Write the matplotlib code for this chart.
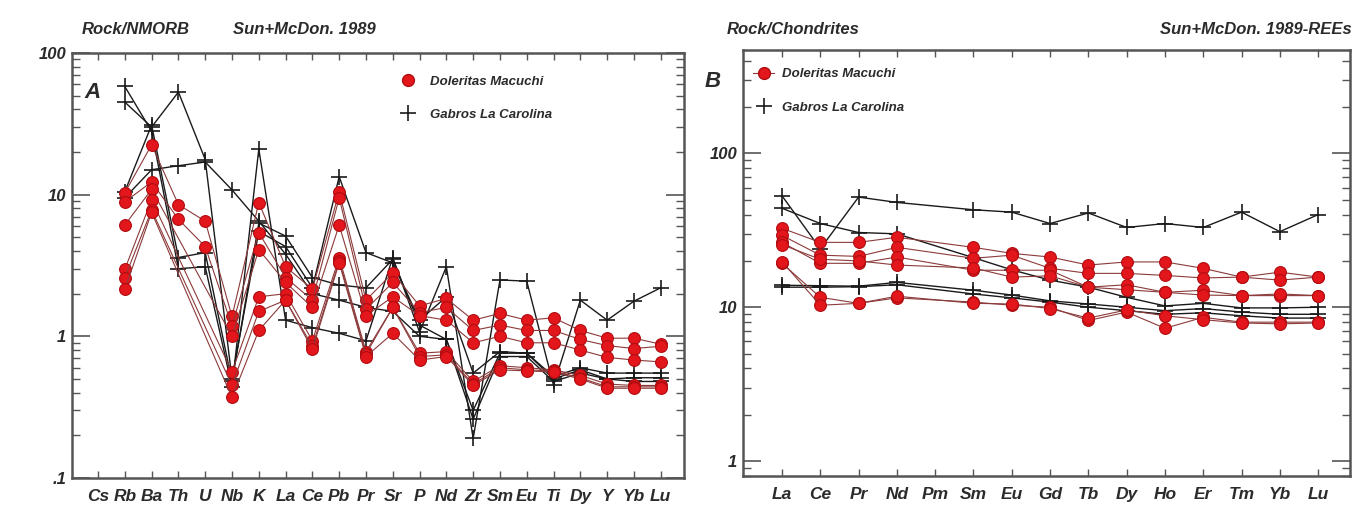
import matplotlib.pyplot as plt
import numpy as np
from matplotlib.lines import Line2D

plt.rcParams['font.family'] = ['Liberation Sans', 'DejaVu Sans']

nan = np.nan

# spider diagram, normalised to NMORB (Sun & McDonough 1989)
spider_elements = ["Cs", "Rb", "Ba", "Th", "U", "Nb", "K", "La", "Ce", "Pb", "Pr",
                   "Sr", "P", "Nd", "Zr", "Sm", "Eu", "Ti", "Dy", "Y", "Yb", "Lu"]

macuchi_nmorb = [
    [nan, 10.3, 22.5, 8.5, 6.5, 1.38, 8.8, 3.1, 2.15, 10.5, 1.8, 2.8, 1.64, 1.85, 1.3, 1.45, 1.3, 1.35, 1.1, 0.97, 0.97, 0.88],
    [nan, 8.9, 12.3, 6.7, 4.3, 1.18, 5.4, 2.6, 1.8, 9.5, 1.55, 2.4, 1.47, 1.6, 1.1, 1.2, 1.1, 1.1, 0.95, 0.86, 0.82, 0.85],
    [nan, 6.1, 10.9, nan, nan, 1.0, 4.1, 2.4, 1.6, 6.1, 1.4, 1.9, 1.4, 1.3, 0.9, 1.0, 0.9, 0.9, 0.8, 0.71, 0.68, 0.66],
    [nan, 2.97, 9.2, nan, nan, 0.56, 1.9, 2.0, 0.93, 3.6, 0.78, 1.6, 0.76, 0.78, 0.48, 0.62, 0.6, 0.58, 0.53, 0.46, 0.45, 0.45],
    [nan, 2.6, 7.8, nan, nan, 0.45, 1.5, 1.8, 0.85, 3.4, 0.75, 1.6, 0.72, 0.74, 0.46, 0.6, 0.58, 0.57, 0.51, 0.44, 0.44, 0.44],
    [nan, 2.15, 7.5, nan, nan, 0.37, 1.1, 1.8, 0.81, 3.3, 0.72, 1.05, 0.68, 0.72, 0.45, 0.58, 0.57, 0.56, 0.5, 0.43, 0.43, 0.43],
]

carolina_nmorb = [
    [nan, 45, 30, 53, 17.7, 0.5, 5.5, 4.3, 2.2, 13.4, 3.9, 3.3, 1.3, 1.9, 0.55, 0.78, 0.76, 0.52, 0.6, 0.55, 0.55, 0.55],
    [nan, 58, 28, 3.0, 3.1, 0.44, 21, 1.3, 1.15, 1.05, 0.93, 3.6, 1.07, 3.1, 0.19, 2.5, 2.45, 0.45, 1.8, 1.3, 1.77, 2.2],
    [nan, 10.5, 31, 3.6, 3.9, 0.48, 6.3, 5.1, 2.6, 2.3, 2.2, 3.5, 1.2, 0.95, 0.26, 0.72, 0.72, 0.48, 0.55, 0.5, 0.51, 0.51],
    [nan, 9.5, 15, 16, 17, 10.8, 6.5, 3.8, 2.0, 1.8, 1.6, 1.5, 1.0, 0.95, 0.3, 0.76, 0.76, 0.5, 0.58, 0.5, 0.48, 0.48],
]

# REE normalised to chondrite
ree_elements = ["La", "Ce", "Pr", "Nd", "Pm", "Sm", "Eu", "Gd", "Tb", "Dy", "Ho", "Er", "Tm", "Yb", "Lu"]

macuchi_ree = [
    [32.6, 26.4, 26.4, 28.5, nan, 24.5, 22.4, 21.2, 18.8, 19.7, 19.7, 17.9, 15.7, 16.9, 15.7],
    [29.3, 21.8, 21.4, 24.5, nan, 20.8, 21.8, 17.9, 16.6, 16.6, 16.1, 15.5, 15.7, 15.0, 15.7],
    [26.4, 19.3, 19.3, 21.2, nan, 17.4, 17.4, 17.4, 13.5, 14.0, 12.5, 12.9, 11.9, 11.9, 11.9],
    [25.5, 20.5, 20.0, 18.8, nan, 18.0, 15.7, 16.0, 13.5, 13.0, 12.5, 12.0, 11.9, 12.2, 11.9],
    [19.3, 11.6, 10.6, 11.5, nan, 10.8, 10.3, 10.0, 8.2, 9.3, 7.3, 8.6, 8.0, 8.0, 8.0],
    [19.8, 10.3, 10.6, 11.8, nan, 10.6, 10.5, 9.8, 8.5, 9.6, 8.8, 8.3, 7.9, 7.8, 7.9],
]

carolina_ree = [
    [53, 24, 52, 48, nan, 43, 41.5, 35, 41, 33, 35, 33, 41.5, 31, 40],
    [44, 35, 30.6, 30, nan, 21, 17.5, 15, 13.5, 11.6, 10.2, 10.6, 9.9, 9.9, 10],
    [13.9, 13.8, 13.7, 14.5, nan, 12.9, 12, 11, 10.5, 10, 9.5, 9.8, 9.3, 9, 9],
    [13.5, 13.5, 13.6, 14, nan, 12.2, 11.5, 10.8, 10, 9.5, 9, 9.2, 8.8, 8.5, 8.5],
]

txt = '#2b2b2b'
red = '#e3161c'
red_edge = '#b00c10'
red_line = '#8c3a3a'
spine_col = '#555555'


def draw_samples(ax, values, style):
    for row in values:
        row = np.array(row, dtype=float)
        x = np.arange(len(row))
        ok = np.isfinite(row)
        ax.plot(x[ok], row[ok], **style)


def style_axes(ax, names, ylim, yticks, ylabels, xlim, xfs):
    ax.set_yscale('log')
    ax.set_ylim(*ylim)
    ax.set_xlim(*xlim)
    ax.set_xticks(np.arange(len(names)))
    ax.set_xticklabels(names, fontsize=xfs, fontstyle='italic', fontweight='bold', color=txt)
    ax.set_yticks(yticks)
    ax.set_yticklabels(ylabels, fontsize=12, fontstyle='italic', fontweight='bold', color=txt)
    ax.tick_params(axis='y', which='major', direction='in', length=13, width=1.2,
                   left=True, right=True, colors=spine_col, labelcolor=txt, pad=4)
    ax.tick_params(axis='y', which='minor', direction='in', length=6, width=1.0,
                   left=True, right=True, colors=spine_col)
    ax.tick_params(axis='x', which='major', direction='in', length=5, width=1.0,
                   top=True, bottom=True, colors=spine_col, labelcolor=txt, pad=8)
    for s in ax.spines.values():
        s.set_color(spine_col)
        s.set_linewidth(1.8)


red_style = dict(color=red_line, lw=0.8, marker='o', ms=8.5, mfc=red, mec=red_edge, mew=0.8, zorder=3)
black_style = dict(color='#1a1a1a', lw=1.0, marker='+', ms=12, mew=1.2, zorder=2)

fig = plt.figure(figsize=(13.54, 5.08), dpi=100)
axA = fig.add_axes([0.0532, 0.0591, 0.452, 0.8366])
axB = fig.add_axes([0.5487, 0.0630, 0.4483, 0.8386])

# panel A
draw_samples(axA, carolina_nmorb, black_style)
draw_samples(axA, macuchi_nmorb, red_style)
style_axes(axA, spider_elements, (0.1, 100), [0.1, 1, 10, 100], ['.1', '1', '10', '100'],
           (-0.97, 21.87), 12.5)

handlesA = [Line2D([], [], ls='none', marker='o', ms=8.5, mfc=red, mec=red_edge),
            Line2D([], [], ls='none', marker='+', ms=12, mew=1.2, color='#1a1a1a')]
axA.legend(handlesA, ['Doleritas Macuchi', 'Gabros La Carolina'], loc='upper left',
           bbox_to_anchor=(0.513, 0.975), frameon=False, labelspacing=1.6, handlelength=1.5,
           handletextpad=0.9, prop=dict(size=9.5, style='italic', weight='bold'), labelcolor=txt)

# panel B
draw_samples(axB, carolina_ree, black_style)
draw_samples(axB, macuchi_ree, red_style)
style_axes(axB, ree_elements, (0.8, 470), [1, 10, 100], ['1', '10', '100'],
           (-1.02, 14.83), 12.5)

handlesB = [Line2D([], [], ls='-', color=red_line, lw=0.8, marker='o', ms=8.5, mfc=red, mec=red_edge),
            Line2D([], [], ls='none', marker='+', ms=12, mew=1.2, color='#1a1a1a')]
axB.legend(handlesB, ['Doleritas Macuchi', 'Gabros La Carolina'], loc='upper left',
           bbox_to_anchor=(-0.003, 0.985), frameon=False, labelspacing=1.6, handlelength=1.6,
           handletextpad=0.6, prop=dict(size=9.5, style='italic', weight='bold'), labelcolor=txt)

# header texts
head = dict(fontsize=12, fontstyle='italic', fontweight='bold', color=txt, va='center')
fig.text(82 / 1354, 1 - 30 / 508, 'Rock/NMORB', **head)
fig.text(233 / 1354, 1 - 30 / 508, 'Sun+McDon. 1989', **head)
fig.text(727 / 1354, 1 - 30 / 508, 'Rock/Chondrites', **head)
fig.text(1352 / 1354, 1 - 30 / 508, 'Sun+McDon. 1989-REEs', ha='right', **head)

fig.text(84 / 1354, 1 - 92 / 508, 'A', fontsize=16, fontstyle='italic', fontweight='bold',
         color=txt, va='center')
fig.text(705 / 1354, 1 - 82 / 508, 'B', fontsize=16, fontstyle='italic', fontweight='bold',
         color=txt, va='center')

fig.savefig('out.png', dpi=100)
